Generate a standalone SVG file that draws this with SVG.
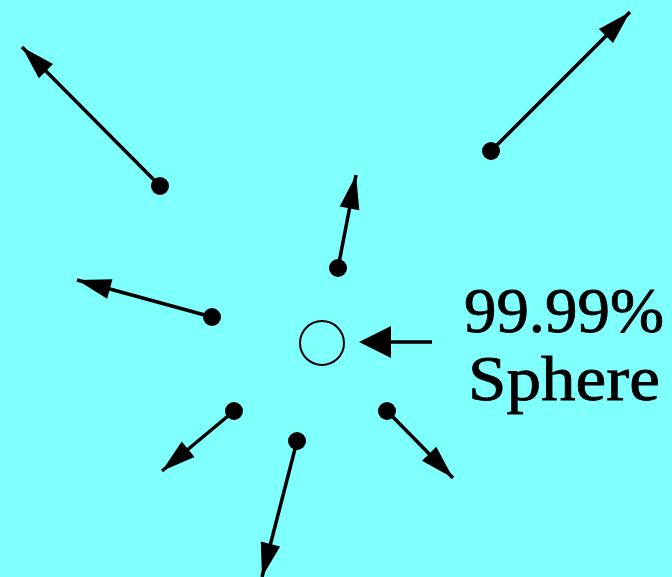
<svg xmlns="http://www.w3.org/2000/svg" width="672" height="577" viewBox="0 0 672 577">
<style>
.ln{stroke:#000;stroke-width:3.5;fill:none}
.dot{fill:#000}
.lbl{font-family:"Liberation Serif","DejaVu Serif",serif;font-size:64px;fill:#000;stroke:#000;stroke-width:0.8}
</style>
<defs>
<marker id="ah" markerUnits="userSpaceOnUse" markerWidth="40" markerHeight="24" refX="34" refY="0" viewBox="0 -12 40 24" orient="auto" overflow="visible">
<path d="M0,-10 L34,0 L0,10 z" fill="#000"/>
</marker>
</defs>
<rect width="672" height="577" fill="#80FFFF"/>
<g id="connectors">
<line class="ln" x1="160" y1="186" x2="22" y2="47" marker-end="url(#ah)"/>
<line class="ln" x1="491" y1="151" x2="630" y2="12" marker-end="url(#ah)"/>
<line class="ln" x1="338" y1="268" x2="356" y2="175" marker-end="url(#ah)"/>
<line class="ln" x1="212" y1="317" x2="77" y2="280" marker-end="url(#ah)"/>
<line class="ln" x1="234" y1="411" x2="162" y2="471" marker-end="url(#ah)"/>
<line class="ln" x1="297" y1="441" x2="262" y2="577" marker-end="url(#ah)"/>
<line class="ln" x1="387" y1="411" x2="453" y2="478" marker-end="url(#ah)"/>
<line class="ln" x1="432" y1="342" x2="388" y2="342"/>
<path d="M359,342 L391,326 L391,358 z" fill="#000"/>
</g>
<g id="p1"><circle class="dot" cx="160" cy="186" r="9"/></g>
<g id="p2"><circle class="dot" cx="491" cy="151" r="9"/></g>
<g id="p3"><circle class="dot" cx="338" cy="268" r="9"/></g>
<g id="p4"><circle class="dot" cx="212" cy="317" r="9"/></g>
<g id="p5"><circle class="dot" cx="234" cy="411" r="9"/></g>
<g id="p6"><circle class="dot" cx="297" cy="441" r="9"/></g>
<g id="p7"><circle class="dot" cx="387" cy="411" r="9"/></g>
<g id="sphere"><circle cx="322" cy="343" r="22" fill="none" stroke="#000" stroke-width="2"/></g>
<g id="label">
<text class="lbl" x="464" y="332" textLength="200" lengthAdjust="spacingAndGlyphs">99.99%</text>
<text class="lbl" x="468" y="400" textLength="192" lengthAdjust="spacingAndGlyphs">Sphere</text>
</g>
</svg>
